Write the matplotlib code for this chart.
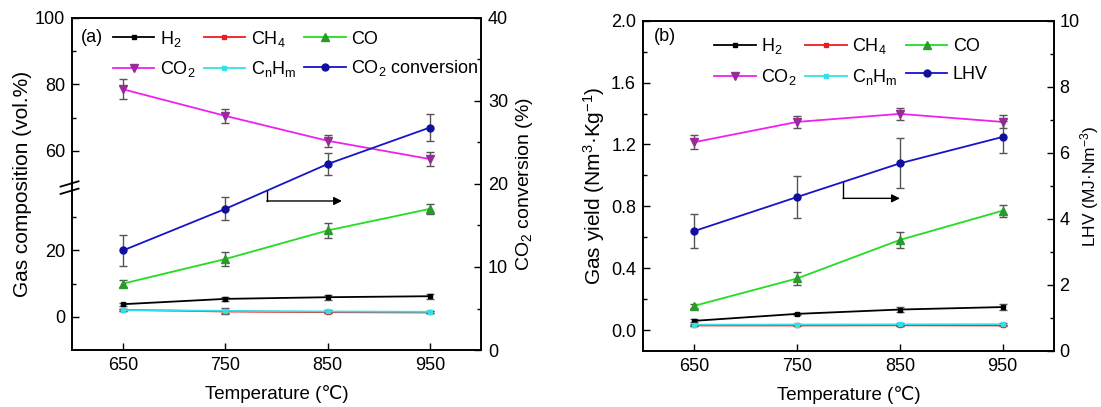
import numpy as np
import matplotlib
matplotlib.use("Agg")
import matplotlib.pyplot as plt
from matplotlib.lines import Line2D

plt.rcParams['font.family'] = ['Liberation Sans', 'DejaVu Sans']
plt.rcParams['mathtext.fontset'] = 'custom'
plt.rcParams['mathtext.rm'] = 'Liberation Sans'
plt.rcParams['mathtext.it'] = 'Liberation Sans:italic'
plt.rcParams['mathtext.default'] = 'regular'
plt.rcParams['font.size'] = 13

# data
temps = [650, 750, 850, 950]

# (a) gas composition (vol.%) and CO2 conversion (%)
h2_a = [3.8, 5.4, 5.9, 6.2]
h2_a_err = [0.5, 0.5, 0.7, 0.7]
ch4_a = [2.1, 1.6, 1.4, 1.3]
ch4_a_err = [0.3, 0.4, 0.3, 0.3]
co_a = [10.0, 17.4, 26.0, 32.5]
co_a_err = [1.1, 2.0, 2.3, 1.6]
co2_a = [78.5, 70.5, 63.0, 57.5]
co2_a_err = [3.0, 2.1, 1.8, 2.0]
cnhm_a = [2.0, 1.8, 1.6, 1.5]
cnhm_a_err = [0.3, 1.0, 0.5, 0.3]
conv_a = [12.0, 17.0, 22.4, 26.8]
conv_a_err = [1.9, 1.4, 1.3, 1.6]

# (b) gas yield (Nm3/kg) and LHV (MJ/Nm3)
h2_b = [0.060, 0.105, 0.133, 0.149]
h2_b_err = [0.010, 0.008, 0.015, 0.018]
ch4_b = [0.030, 0.030, 0.031, 0.030]
ch4_b_err = [0.005, 0.005, 0.005, 0.005]
co_b = [0.157, 0.334, 0.583, 0.772]
co_b_err = [0.015, 0.040, 0.050, 0.040]
co2_b = [1.215, 1.346, 1.398, 1.346]
co2_b_err = [0.045, 0.040, 0.038, 0.042]
cnhm_b = [0.035, 0.036, 0.037, 0.038]
cnhm_b_err = [0.006, 0.006, 0.010, 0.006]
lhv_b = [3.63, 4.66, 5.68, 6.48]
lhv_b_err = [0.52, 0.65, 0.76, 0.48]

C_H2 = 'black'
C_CH4 = '#ee1c1c'
C_CO = '#22dd22'
C_CO2 = '#ee22ee'
C_CNHM = '#33e0e8'
C_BLUE = '#1515c8'
ECOL = '#555555'

styles = {
    'H2': dict(color=C_H2, marker='s', ms=2.5, mfc=C_H2),
    'CH4': dict(color=C_CH4, marker='s', ms=2.5, mfc=C_CH4),
    'CO': dict(color=C_CO, marker='^', ms=5.5, mfc='#2a9a2a', mec='#2a9a2a'),
    'CO2': dict(color=C_CO2, marker='v', ms=5.5, mfc='#9a2a9a', mec='#9a2a9a'),
    'CnHm': dict(color=C_CNHM, marker='s', ms=2.5, mfc=C_CNHM),
    'BLUE': dict(color=C_BLUE, marker='o', ms=5, mfc='#1010a0', mec='#1010a0'),
}

TICK_FS = 13
XLAB_FS = 13.5
YLAB_FS = 15
LEG_FS = 13


def draw(ax, y, err, key):
    st = styles[key]
    ax.errorbar(temps, y, yerr=err, lw=1.3, ecolor=ECOL, elinewidth=1,
                capsize=3, capthick=1, zorder=3, **st)


def style_axis(ax):
    for s in ax.spines.values():
        s.set_linewidth(1.2)
    ax.tick_params(which='both', direction='in', width=1, labelsize=TICK_FS)
    ax.tick_params(which='major', length=5, pad=5)
    ax.tick_params(which='minor', length=3)


def legend_handles(last_label):
    labels = ['H$_2$', 'CH$_4$', 'CO', 'CO$_2$', 'C$_n$H$_m$', last_label]
    keys = ['H2', 'CH4', 'CO', 'CO2', 'CnHm', 'BLUE']
    handles = [Line2D([], [], lw=1.3, **styles[k]) for k in keys]
    # reorder so that ncol=3 fills row by row
    order = [0, 3, 1, 4, 2, 5]
    return [handles[i] for i in order], [labels[i] for i in order]


# broken left axis of panel (a)
def fwd(y):
    y = np.asarray(y, float)
    return np.where(y <= 40, y, np.where(y >= 50, y - 10, 40))


def inv(p):
    p = np.asarray(p, float)
    return np.where(p <= 40, p, p + 10)


fig = plt.figure(figsize=(11.01, 4.07), dpi=100)

# ---------- panel (a) ----------
axa = fig.add_axes([0.0654, 0.140, 0.3715, 0.816])
axa.set_yscale('function', functions=(fwd, inv))
axa.set_xlim(600, 1000)
axa.set_ylim(-10, 100)
axa.set_xticks(temps)
axa.set_yticks([0, 20, 60, 80, 100])
axa.set_yticks([10, 30, 70, 90], minor=True)
axa.set_yticklabels(['0', '20', '60', '80', '100'])
axa.yaxis.set_minor_formatter(plt.NullFormatter())
style_axis(axa)

draw(axa, co2_a, co2_a_err, 'CO2')
draw(axa, co_a, co_a_err, 'CO')
draw(axa, h2_a, h2_a_err, 'H2')
draw(axa, ch4_a, ch4_a_err, 'CH4')
draw(axa, cnhm_a, cnhm_a_err, 'CnHm')

axa2 = axa.twinx()
axa2.set_ylim(0, 40)
axa2.set_yticks([0, 10, 20, 30, 40])
axa2.set_yticks([5, 15, 25, 35], minor=True)
style_axis(axa2)
draw(axa2, conv_a, conv_a_err, 'BLUE')

# break marks on the left spine
for yb in (0.478, 0.500):
    axa.plot([-0.028, 0.016], [yb - 0.008, yb + 0.008], color='black',
             lw=1.3, transform=axa.transAxes, clip_on=False, zorder=5)

# arrow pointing to the right axis
axa2.plot([791, 791], [19.2, 17.95], color='black', lw=1)
axa2.annotate('', xy=(864, 17.95), xytext=(790.5, 17.95),
              arrowprops=dict(arrowstyle='-|>', color='black', lw=1,
                              mutation_scale=12, shrinkA=0, shrinkB=0))

axa.set_xlabel('Temperature (℃)', fontsize=XLAB_FS, labelpad=8)
axa.set_ylabel('Gas composition (vol.%)', fontsize=YLAB_FS, labelpad=2)
axa2.set_ylabel('CO$_2$ conversion (%)', fontsize=YLAB_FS - 1, labelpad=4)

h, l = legend_handles('CO$_2$ conversion')
axa.legend(h, l, ncol=3, frameon=False, loc='upper left',
           bbox_to_anchor=(0.078, 0.995), borderpad=0, handlelength=2.3,
           handletextpad=0.3, columnspacing=0.45, labelspacing=0.6,
           fontsize=LEG_FS)
axa.text(0.022, 0.942, '(a)', transform=axa.transAxes, fontsize=LEG_FS,
         va='center', ha='left')

# ---------- panel (b) ----------
axb = fig.add_axes([0.584, 0.138, 0.3733, 0.811])
axb.set_xlim(600, 1000)
axb.set_ylim(-0.134, 2.0)
axb.set_xticks(temps)
axb.set_yticks(np.arange(0, 2.01, 0.4))
axb.set_yticks(np.arange(0.2, 2.0, 0.4), minor=True)
axb.yaxis.set_major_formatter(plt.FormatStrFormatter('%.1f'))
style_axis(axb)

draw(axb, co2_b, co2_b_err, 'CO2')
draw(axb, co_b, co_b_err, 'CO')
draw(axb, h2_b, h2_b_err, 'H2')
draw(axb, ch4_b, ch4_b_err, 'CH4')
draw(axb, cnhm_b, cnhm_b_err, 'CnHm')

axb2 = axb.twinx()
axb2.set_ylim(0, 10)
axb2.set_yticks([0, 2, 4, 6, 8, 10])
axb2.set_yticks([1, 3, 5, 7, 9], minor=True)
style_axis(axb2)
axb2.tick_params(which='major', pad=4)
draw(axb2, lhv_b, lhv_b_err, 'BLUE')

axb2.plot([795, 795], [5.12, 4.62], color='black', lw=1)
axb2.annotate('', xy=(850, 4.62), xytext=(794.7, 4.62),
              arrowprops=dict(arrowstyle='-|>', color='black', lw=1,
                              mutation_scale=12, shrinkA=0, shrinkB=0))

axb.set_xlabel('Temperature (℃)', fontsize=XLAB_FS, labelpad=8)
axb.set_ylabel('Gas yield (Nm$^3$·Kg$^{-1}$)', fontsize=YLAB_FS, labelpad=3)
axb2.set_ylabel('LHV (MJ·Nm$^{-3}$)', fontsize=YLAB_FS - 2.5, labelpad=-1)

h, l = legend_handles('LHV')
axb.legend(h, l, ncol=3, frameon=False, loc='upper left',
           bbox_to_anchor=(0.152, 0.98), borderpad=0, handlelength=2.3,
           handletextpad=0.3, columnspacing=0.45, labelspacing=0.6,
           fontsize=LEG_FS)
axb.text(0.027, 0.952, '(b)', transform=axb.transAxes, fontsize=LEG_FS,
         va='center', ha='left')

fig.savefig('out.png', dpi=100)
